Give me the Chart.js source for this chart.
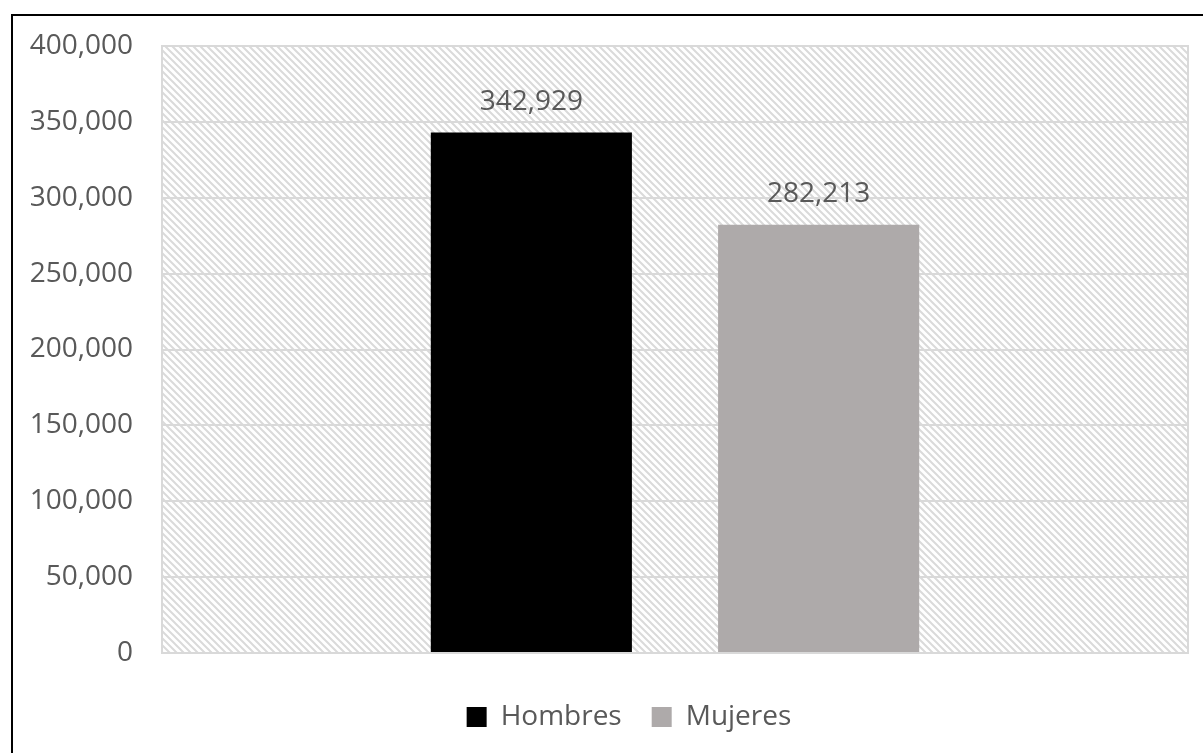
<!DOCTYPE html>
<html>
<head>
<meta charset="utf-8">
<script src="https://cdn.jsdelivr.net/npm/chart.js@4"></script>
<style>
  html, body { margin: 0; padding: 0; background: #fff; overflow: hidden; }
  #wrap { position: relative; width: 1203px; height: 753px; }
  #frame { position: absolute; left: 11px; top: 14px; width: 1230px; height: 780px; border: 2px solid #000; box-sizing: border-box; }
  canvas { position: absolute; left: 0; top: 0; }
</style>
</head>
<body>
<div id="wrap">
  <div id="frame"></div>
  <canvas id="c" width="1203" height="753"></canvas>
</div>
<script>
// data
const categories = [''];
const seriesNames = ['Hombres', 'Mujeres'];
const hombres = [342929];
const mujeres = [282213];
const yMin = 0, yMax = 400000, yStep = 50000;

const seriesColors = ['#000000', '#AEAAAA'];
const textColor = '#595959';
const gridColor = '#D9D9D9';
const fontFamily = "'Open Sans', sans-serif";

const fmt = v => Number(v).toLocaleString('en-US');

// diagonal hatch for the plot area
function makeHatch(ctx) {
    const s = 7;
    const tile = document.createElement('canvas');
    tile.width = s; tile.height = s;
    const t = tile.getContext('2d');
    t.strokeStyle = '#DADADA';
    t.lineWidth = 2;
    t.beginPath();
    t.moveTo(-1, -1); t.lineTo(s + 1, s + 1);
    t.moveTo(-1, s - 1); t.lineTo(1, s + 1);
    t.moveTo(s - 1, -1); t.lineTo(s + 1, 1);
    t.stroke();
    return ctx.createPattern(tile, 'repeat');
}

const plotBackground = {
    id: 'plotBackground',
    afterLayout(chart) {
        // Excel puts the legend a bit right of the canvas centre
        chart.legend.left += 35;
        chart.legend.right += 35;
    },
    beforeDraw(chart) {
        const { ctx, chartArea: a } = chart;
        ctx.save();
        ctx.fillStyle = makeHatch(ctx);
        ctx.fillRect(a.left, a.top, a.right - a.left, a.bottom - a.top);
        ctx.restore();
    },
    afterDraw(chart) {
        const { ctx, chartArea: a } = chart;
        ctx.save();
        ctx.strokeStyle = gridColor;
        ctx.lineWidth = 2;
        ctx.strokeRect(a.left, a.top, a.right - a.left, a.bottom - a.top);
        ctx.restore();
    }
};

const valueLabels = {
    id: 'valueLabels',
    afterDatasetsDraw(chart) {
        const { ctx } = chart;
        ctx.save();
        ctx.font = '28px ' + fontFamily;
        ctx.fillStyle = textColor;
        ctx.textAlign = 'center';
        ctx.textBaseline = 'middle';
        chart.data.datasets.forEach((ds, i) => {
            chart.getDatasetMeta(i).data.forEach((bar, j) => {
                ctx.fillText(fmt(ds.data[j]), bar.x, bar.y - 31);
            });
        });
        ctx.restore();
    }
};

const ctx = document.getElementById('c').getContext('2d');
new Chart(ctx, {
    type: 'bar',
    data: {
        labels: categories,
        datasets: [
            { label: seriesNames[0], data: hombres, backgroundColor: seriesColors[0] },
            { label: seriesNames[1], data: mujeres, backgroundColor: seriesColors[1] }
        ]
    },
    options: {
        responsive: false,
        animation: false,
        devicePixelRatio: 1,
        categoryPercentage: 0.56,
        barPercentage: 0.70,
        layout: { padding: { left: 0, top: 46, right: 15, bottom: 12 } },
        plugins: {
            tooltip: { enabled: false },
            legend: {
                position: 'bottom',
                labels: {
                    color: textColor,
                    font: { family: fontFamily, size: 28 },
                    boxWidth: 20,
                    boxHeight: 20,
                    padding: 30
                }
            }
        },
        scales: {
            x: {
                ticks: { display: false },
                grid: { display: false },
                border: { display: false },
                afterFit(scale) { scale.height = 20; }
            },
            y: {
                min: yMin,
                max: yMax,
                ticks: {
                    stepSize: yStep,
                    color: textColor,
                    font: { family: fontFamily, size: 28 },
                    padding: 29,
                    callback: v => fmt(v)
                },
                grid: { color: gridColor, lineWidth: 2, drawTicks: false },
                border: { display: false },
                afterFit(scale) { scale.width = 162; }
            }
        }
    },
    plugins: [plotBackground, valueLabels]
});
</script>
</body>
</html>
